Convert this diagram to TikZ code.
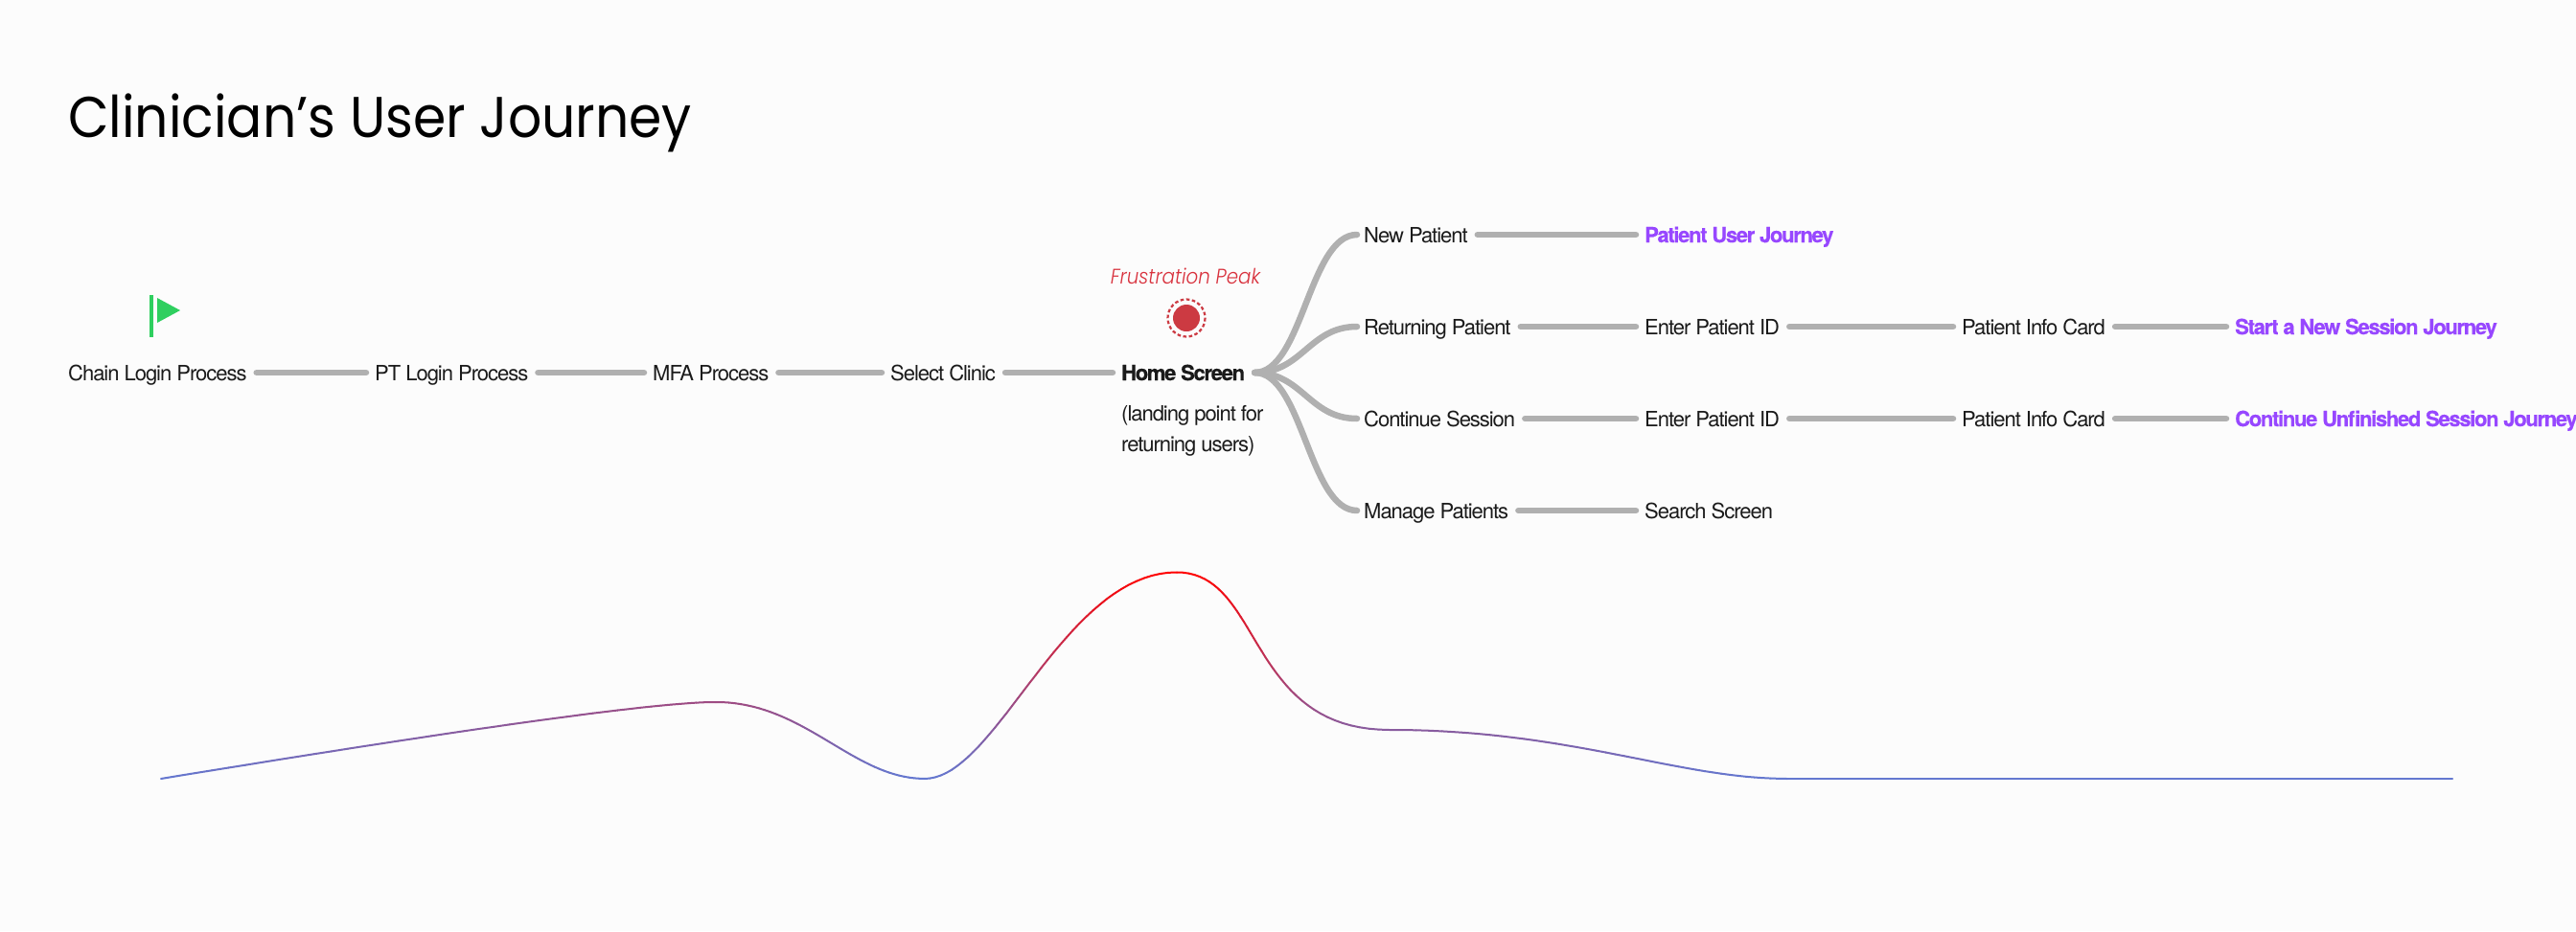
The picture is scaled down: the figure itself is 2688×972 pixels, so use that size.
\documentclass[tikz,border=0pt]{standalone}
\usepackage{fontspec}
\setmainfont{TeX Gyre Heros}
\newfontfamily\titlefont[FakeStretch=0.92]{Poppins}
\newfontfamily\bodyfont[LetterSpace=-4.7]{TeX Gyre Heros}
\newfontfamily\boldfont[LetterSpace=-6,FakeBold=0.4]{TeX Gyre Heros Bold}
\newfontfamily\peakfont[FakeStretch=0.9]{Poppins Light Italic}
\usetikzlibrary{calc}
\definecolor{bgc}{HTML}{FCFCFC}
\definecolor{txt}{HTML}{1A1A1A}
\definecolor{linec}{HTML}{B0B0B0}
\definecolor{purp}{HTML}{9747FF}
\definecolor{flagc}{HTML}{2FCF5F}
\definecolor{peakc}{HTML}{CC3A42}
\definecolor{peaktxt}{HTML}{D8303C}
\definecolor{curveblue}{HTML}{6478D0}
\definecolor{curvered}{HTML}{FF0000}
\newcommand{\gradcurve}[8]{%
  \foreach \i in {1,...,40}{%
    \pgfmathsetmacro{\ta}{(\i-1)/40}\pgfmathsetmacro{\tb}{\i/40}%
    \pgfmathsetmacro{\xa}{(1-\ta)^3*#1+3*(1-\ta)^2*\ta*#3+3*(1-\ta)*\ta^2*#5+\ta^3*#7}%
    \pgfmathsetmacro{\ya}{(1-\ta)^3*#2+3*(1-\ta)^2*\ta*#4+3*(1-\ta)*\ta^2*#6+\ta^3*#8}%
    \pgfmathsetmacro{\xb}{(1-\tb)^3*#1+3*(1-\tb)^2*\tb*#3+3*(1-\tb)*\tb^2*#5+\tb^3*#7}%
    \pgfmathsetmacro{\yb}{(1-\tb)^3*#2+3*(1-\tb)^2*\tb*#4+3*(1-\tb)*\tb^2*#6+\tb^3*#8}%
    \pgfmathsetmacro{\pc}{min(100,max(0,(813-(\ya+\yb)/2)/215*100))}%
    \draw[curvestroke,curvered!\pc!curveblue] (\xa,\ya) -- (\xb,\yb);
  }%
}
\tikzset{
  x=1pt,y=-1pt,
  lbl/.style={anchor=base west,inner sep=0pt,text height=20pt,text depth=4pt,text=txt,font=\bodyfont\fontsize{22}{26}\selectfont},
  boldlbl/.style={lbl,font=\boldfont\fontsize{22}{26}\selectfont},
  goal/.style={boldlbl,text=purp},
  conn/.style={draw=linec,line width=6.5pt,line cap=round,shorten <=10pt,shorten >=9pt},
  branch/.style={draw=linec,line width=6.5pt,line cap=round},
  curvestroke/.style={line width=2pt,line cap=round},
}
\begin{document}
\begin{tikzpicture}
\useasboundingbox (0,0) rectangle (2688,972);
\fill[bgc] (0,0) rectangle (2688,972);
\node[anchor=base west,inner sep=0pt,font=\titlefont\fontsize{60}{70}\selectfont,text=black] (title) at (71,143) {Clinician’s User Journey};
% flag
\fill[flagc] (156,308) rectangle (160,352);
\fill[flagc] (164,311) -- (188,324) -- (164,337) -- cycle;
% row 1
\node[lbl] (chain) at (71,397) {Chain Login Process};
\node[lbl] (pt) at (391,397) {PT Login Process};
\node[lbl] (mfa) at (681,397) {MFA Process};
\node[lbl] (clinic) at (929,397) {Select Clinic};
\node[boldlbl] (home) at (1170,397) {Home Screen};
\node[lbl] (land1) at (1170,439) {(landing point for};
\node[lbl] (land2) at (1170,471) {returning users)};
\draw[conn] (chain.east) -- (pt.west);
\draw[conn] (pt.east) -- (mfa.west);
\draw[conn] (mfa.east) -- (clinic.west);
\draw[conn] (clinic.east) -- (home.west);
% peak
\node[anchor=base,inner sep=0pt,text=peaktxt,font=\peakfont\fontsize{22}{26}\selectfont] (peak) at (1237,296) {Frustration Peak};
\fill[peakc] (1238,332) circle (14);
\draw[peakc,line width=2.2pt,dash pattern=on 3.6pt off 2.5pt] (1238,332) circle (19.5);
% branch labels
\node[lbl] (new) at (1423,253) {New Patient};
\node[lbl] (ret) at (1423,349) {Returning Patient};
\node[lbl] (cont) at (1423,445) {Continue Session};
\node[lbl] (man) at (1423,541) {Manage Patients};
\coordinate (hub) at ($(home.east)+(10,0)$);
\foreach \t in {new,ret,cont,man}{
  \draw[branch] (hub) .. controls +(50,0) and ($(\t.west)+(-57,0)$) .. ($(\t.west)+(-7,0)$);
}
\node[goal] (puj) at (1716,253) {Patient User Journey};
\node[lbl] (id1) at (1716,349) {Enter Patient ID};
\node[lbl] (id2) at (1716,445) {Enter Patient ID};
\node[lbl] (search) at (1716,541) {Search Screen};
\node[lbl] (card1) at (2047,349) {Patient Info Card};
\node[lbl] (card2) at (2047,445) {Patient Info Card};
\node[goal] (start) at (2332,349) {Start a New Session Journey};
\node[goal] (unf) at (2332,445) {Continue Unfinished Session Journey};
\draw[conn] (new.east) -- (puj.west);
\draw[conn] (ret.east) -- (id1.west);
\draw[conn] (cont.east) -- (id2.west);
\draw[conn] (man.east) -- (search.west);
\draw[conn] (id1.east) -- (card1.west);
\draw[conn] (id2.east) -- (card2.west);
\draw[conn] (card1.east) -- (start.west);
\draw[conn] (card2.east) -- (unf.west);
% curve
\gradcurve{168}{813}{400}{775}{670}{733}{747}{733}
\gradcurve{747}{733}{840}{733}{890}{813}{965}{813}
\gradcurve{965}{813}{1040}{813}{1110}{597.5}{1228}{597.5}
\gradcurve{1228}{597.5}{1318}{597.5}{1300}{762}{1450}{762}
\gradcurve{1450}{762}{1640}{762}{1750}{813}{1865}{813}
\draw[curvestroke,curveblue] (1865,813) -- (2559,813);
\end{tikzpicture}
\end{document}
